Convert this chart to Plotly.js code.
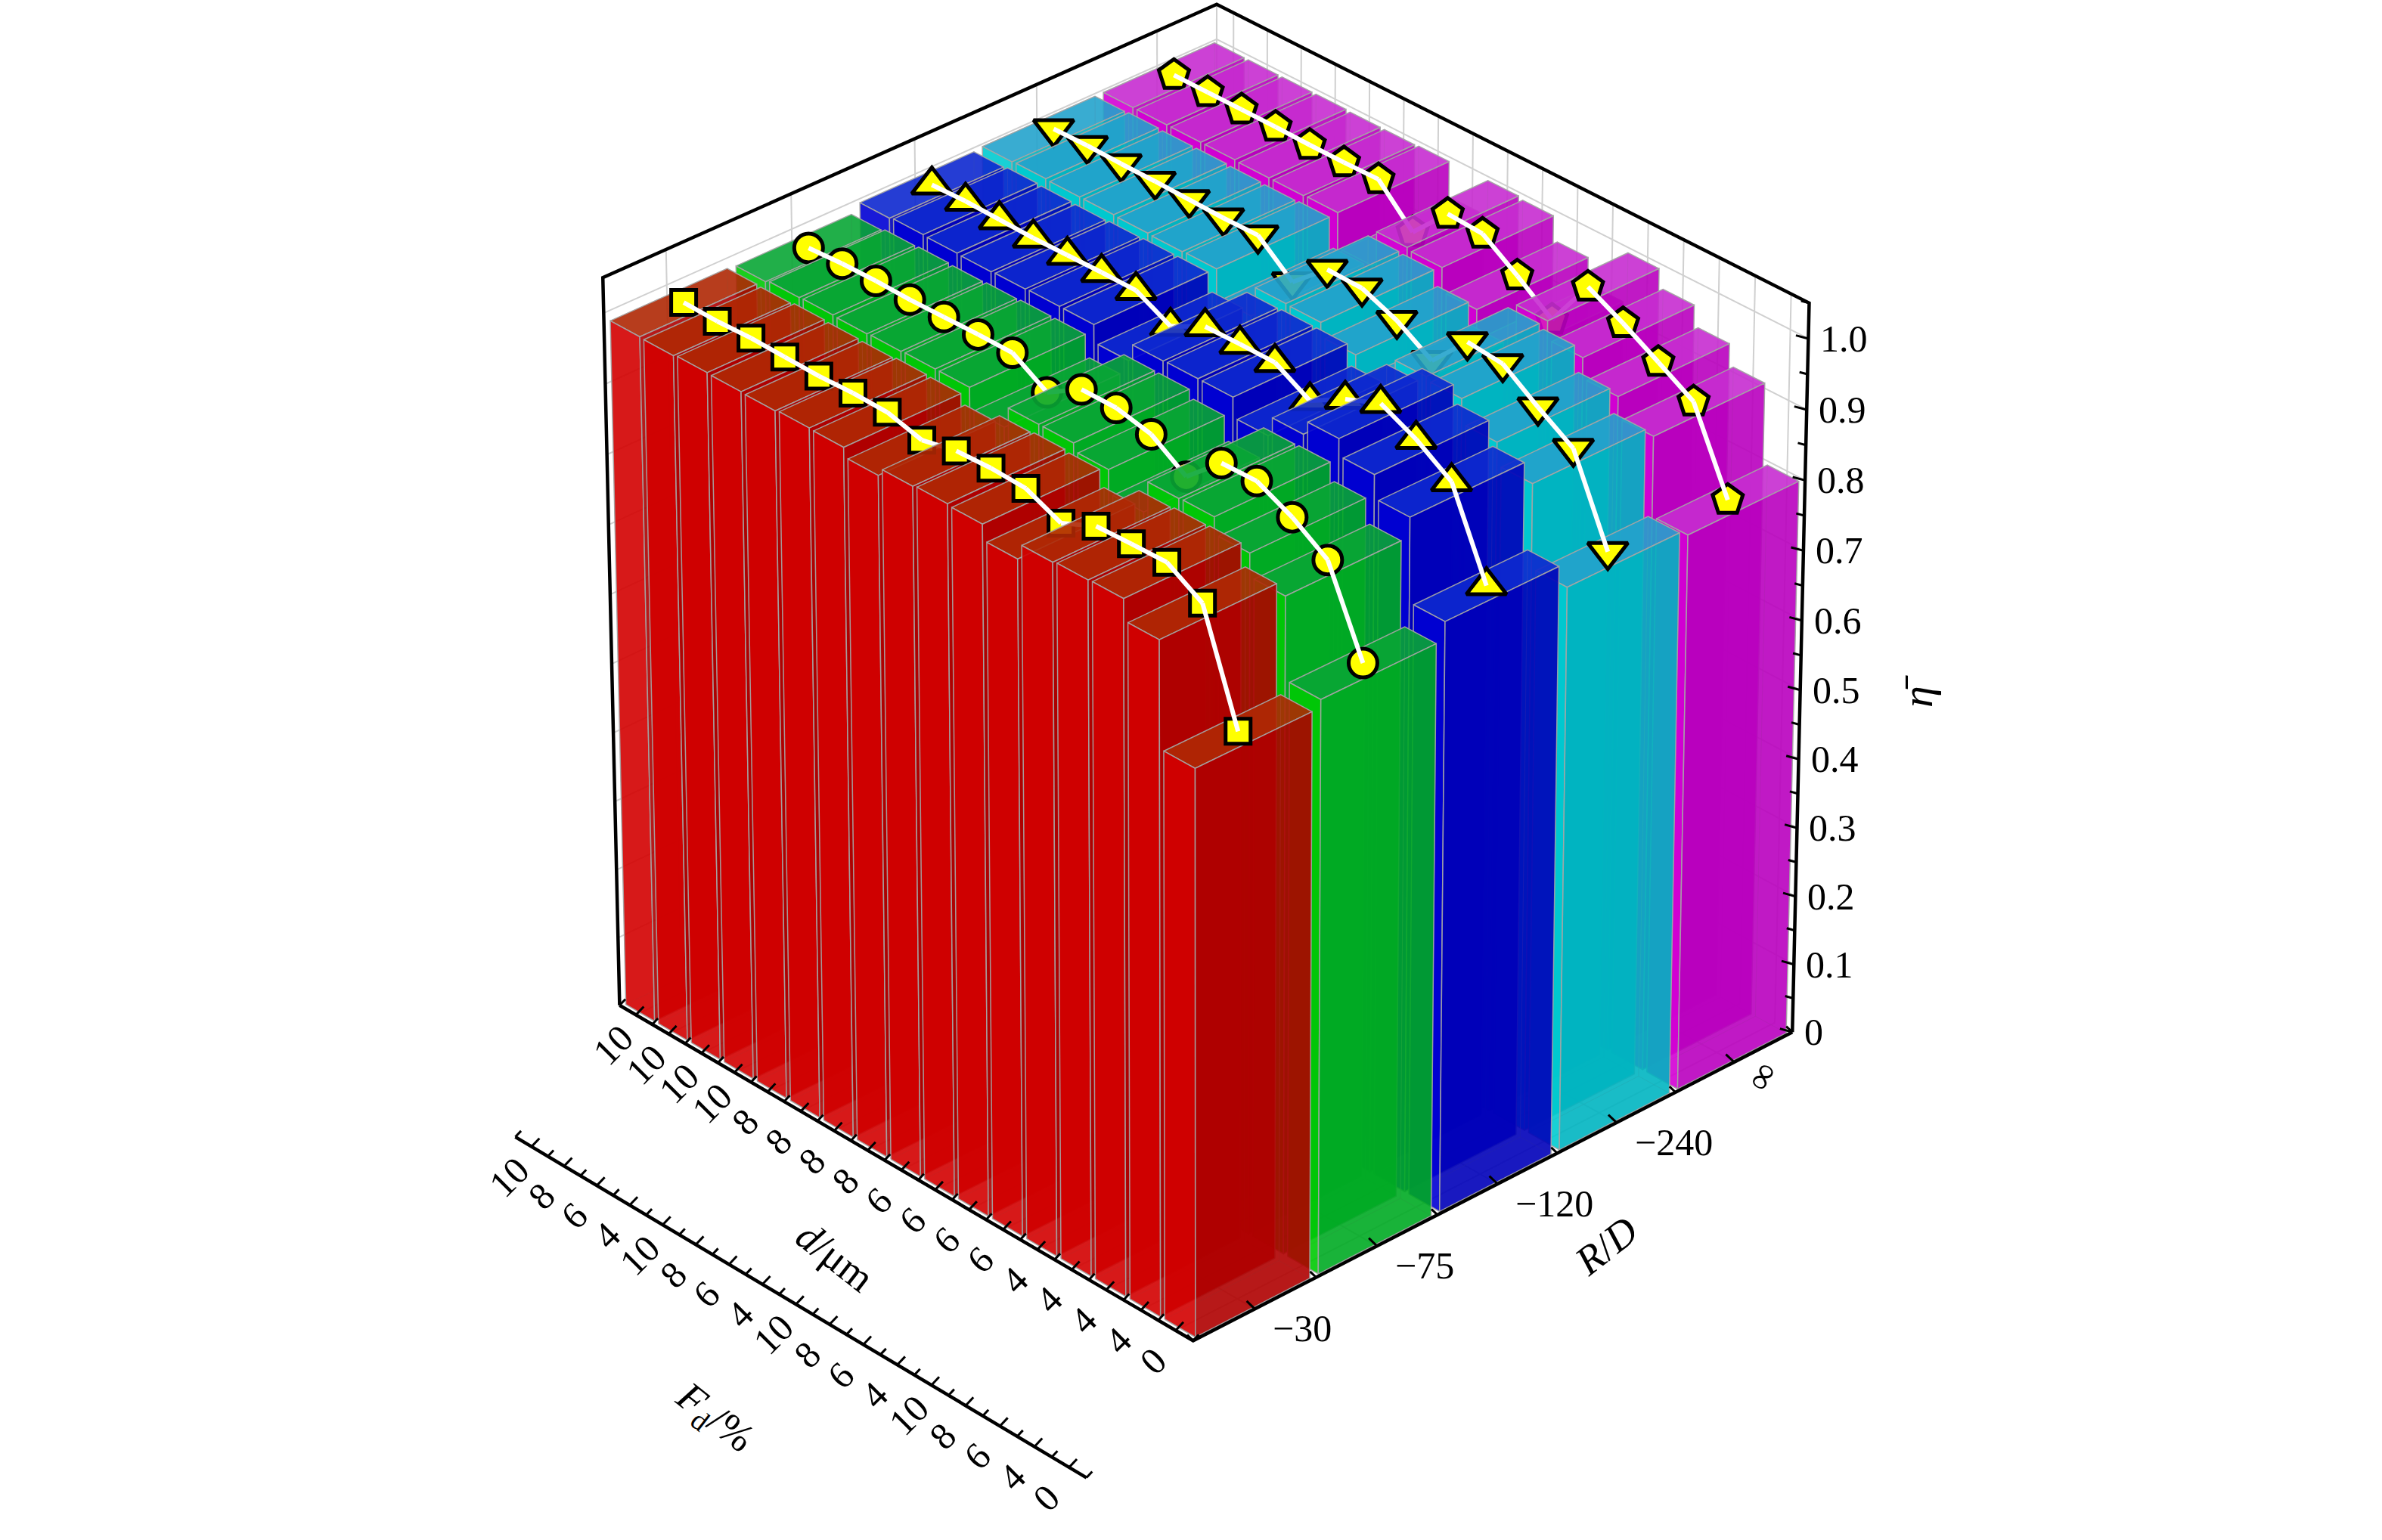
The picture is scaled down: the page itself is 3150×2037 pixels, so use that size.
<!DOCTYPE html>
<html><head><meta charset="utf-8">
<script src="https://cdn.plot.ly/plotly-3.0.1.min.js"></script>
<style>html,body{margin:0;padding:0;background:#fff;}#chart{width:3150px;height:2037px;}</style>
</head><body><div id="chart"></div>
<script>
// ---------------- data ----------------
const dLabels  = ['10','10','10','10','8','8','8','8','6','6','6','6','4','4','4','4','0'];
const fdLabels = ['10','8','6','4','10','8','6','4','10','8','6','4','10','8','6','4','0'];
const rdLabels = ['\u221230','\u221275','\u2212120','\u2212240','\u221e'];
const zTickVals = [0,0.1,0.2,0.3,0.4,0.5,0.6,0.7,0.8,0.9,1.0];
const zTickText = ['0','0.1','0.2','0.3','0.4','0.5','0.6','0.7','0.8','0.9','1.0'];
const etaRD30  = [0.988,0.987,0.989,0.988,0.987,0.989,0.988,0.975,0.986,0.988,0.986,0.964,0.986,0.988,0.989,0.959,0.808];
const etaRD75  = [0.986,0.989,0.990,0.989,0.990,0.991,0.991,0.961,0.991,0.991,0.980,0.947,0.992,0.993,0.969,0.936,0.819];
const etaRD120 = [0.997,0.999,0.998,0.997,0.998,0.999,0.999,0.974,0.999,1.000,1.000,0.972,1.000,1.020,0.996,0.963,0.844];
const etaRD240 = [0.999,1.000,0.999,0.999,0.998,0.997,0.998,0.957,1.000,0.999,0.979,0.948,1.000,0.995,0.960,0.928,0.809];
const etaInf   = [0.999,0.999,0.999,0.999,0.998,0.998,0.999,0.949,1.000,0.997,0.963,0.926,0.998,0.972,0.943,0.913,0.800];

// ---------------- styles ----------------
const series = [
  {vals:etaRD30,  f:[215,0,0],   s:[175,0,0],   t:[175,45,5],   sym:'square',        size:33},
  {vals:etaRD75,  f:[0,205,0],   s:[0,170,35],  t:[10,165,55],  sym:'circle',        size:38},
  {vals:etaRD120, f:[0,0,215],   s:[0,0,185],   t:[15,45,210],  sym:'triangle-up',   size:46},
  {vals:etaRD240, f:[0,205,210], s:[0,180,192], t:[40,160,205], sym:'triangle-down', size:46},
  {vals:etaInf,   f:[215,0,215], s:[185,0,190], t:[200,50,210], sym:'pentagon',      size:42}
];
const FACE_A = 0.8, BACK_A = 0.5, BW = 0.88, BD = 0.93;
const FONT = 'Liberation Serif, Times New Roman, serif';
const LBL = {family:FONT, size:50, color:'#000'};
const X0 = -0.5, X1 = dLabels.length - 0.5, Y0 = -0.5, Y1 = rdLabels.length - 0.5, Z0 = 0, Z1 = 1.05;
const FY = Y0 - 0.86, FZ = -0.119;                 // position of the F_d axis
// camera fitted to the reference view (perspective, looking down from the front corner)
const CAM = {az:43.2, el:30.7, dist:18, scale:1126, cx:1593.7, cy:872.5, ly:0.977, lz:0.995};
const rad = Math.PI/180;
const sa = Math.sin(CAM.az*rad), ca = Math.cos(CAM.az*rad), se = Math.sin(CAM.el*rad), ce = Math.cos(CAM.el*rad);
function world(x, y, z) {
  return [(x - X0)/(X1 - X0) - 0.5, ((y - Y0)/(Y1 - Y0) - 0.5)*CAM.ly, ((z - Z0)/(Z1 - Z0) - 0.5)*CAM.lz];
}
function P(x, y, z) {
  const [X, Y, Z] = world(x, y, z);
  const r = X*sa + Y*ca, u = -X*se*ca + Y*se*sa + Z*ce, d = X*ce*ca - Y*ce*sa + Z*se;
  const k = CAM.dist/(CAM.dist - d);
  return [CAM.cx + CAM.scale*k*r, CAM.cy - CAM.scale*k*u];
}
function depth(x, y) { const [X, Y] = world(x, y, 0); return X*ce*ca - Y*ce*sa; }
const rgba = (c, a) => `rgba(${c[0]},${c[1]},${c[2]},${a})`;

const traces = [];
function lineTrace(segs, color, width) {
  const xs = [], ys = [];
  segs.forEach(sg => { sg.forEach(p => { xs.push(p[0]); ys.push(p[1]); }); xs.push(null); ys.push(null); });
  traces.push({type:'scatter', mode:'lines', x:xs, y:ys, line:{color, width}, hoverinfo:'skip', connectgaps:false});
}
function polyTrace(polys, fill, lcolor, lw) {
  const xs = [], ys = [];
  polys.forEach((pg, i) => {
    if (i) { xs.push(null); ys.push(null); }
    pg.forEach(p => { xs.push(p[0]); ys.push(p[1]); }); xs.push(pg[0][0]); ys.push(pg[0][1]);
  });
  traces.push({type:'scatter', mode:'lines', x:xs, y:ys, fill:'toself', fillcolor:fill,
    line:{color:lcolor, width:lw}, hoverinfo:'skip', connectgaps:false});
}
const L3 = pts => pts.map(p => P(p[0], p[1], p[2]));

// ---------------- back walls & floor grid ----------------
(() => {
  const g = [];
  rdLabels.forEach((_, j) => { g.push(L3([[X0,j,Z0],[X0,j,Z1]])); g.push(L3([[X0,j,Z0],[X1,j,Z0]])); });
  dLabels.forEach((_, n) => { g.push(L3([[n,Y1,Z0],[n,Y1,Z1]])); g.push(L3([[n,Y0,Z0],[n,Y1,Z0]])); });
  zTickVals.slice(1).forEach(z => { g.push(L3([[X0,Y0,z],[X0,Y1,z],[X1,Y1,z]])); });
  g.push(L3([[X0,Y1,Z0],[X0,Y1,Z1]]));
  lineTrace(g, 'rgb(208,208,208)', 2);
})();

// ---------------- bars, markers, connecting lines (painter order) ----------------
const bars = [];
series.forEach((s, j) => s.vals.forEach((v, n) => bars.push({n, j, v, d:depth(n, j)})));
bars.sort((a, b) => a.d - b.d);
const mk = (s, n, j) => P(n, j, s.vals[n]);
bars.forEach(b => {
  const s = series[b.j], n = b.n, j = b.j, v = b.v;
  const x0 = n - BW/2, x1 = n + BW/2, y0 = j - BD/2, y1 = j + BD/2;
  const rising = n > 0 && v > s.vals[n-1] + 0.004;
  const seg = () => { const a = mk(s, n-1, j), c = mk(s, n, j);
    traces.push({type:'scatter', mode:'lines', x:[a[0], c[0]], y:[a[1], c[1]], line:{color:'#ffffff', width:6}, hoverinfo:'skip'}); };
  if (rising) seg();
  // hidden faces (seen through the translucent front)
  polyTrace([
    L3([[x0,y0,0],[x0,y1,0],[x0,y1,v],[x0,y0,v]]),
    L3([[x0,y1,0],[x1,y1,0],[x1,y1,v],[x0,y1,v]]),
    L3([[x0,y0,0],[x1,y0,0],[x1,y1,0],[x0,y1,0]])
  ], rgba(s.s, BACK_A), 'rgba(150,150,150,0.45)', 1);
  // visible faces
  polyTrace([L3([[x0,y0,v],[x1,y0,v],[x1,y1,v],[x0,y1,v]])], rgba(s.t, FACE_A), 'rgba(165,165,165,0.9)', 1.5);
  polyTrace([L3([[x0,y0,0],[x1,y0,0],[x1,y0,v],[x0,y0,v]])], rgba(s.f, FACE_A), 'rgba(165,165,165,0.9)', 1.5);
  polyTrace([L3([[x1,y0,0],[x1,y1,0],[x1,y1,v],[x1,y0,v]])], rgba(s.s, FACE_A), 'rgba(165,165,165,0.9)', 1.5);
  const m = mk(s, n, j);
  traces.push({type:'scatter', mode:'markers', x:[m[0]], y:[m[1]],
    marker:{symbol:s.sym, size:s.size, color:'#ffff00', line:{color:'#000', width:5}}, hoverinfo:'skip'});
  if (n > 0 && !rising) seg();
});

// ---------------- frame ----------------
lineTrace([
  L3([[X0,Y0,Z0],[X0,Y0,Z1],[X0,Y1,Z1],[X1,Y1,Z1],[X1,Y1,Z0]]),
  L3([[X0,Y0,Z0],[X1,Y0,Z0],[X1,Y1,Z0]]),
  L3([[X0,FY,FZ],[X1,FY,FZ]])
], '#000', 4.5);

// ---------------- ticks ----------------
function tickSeg(base, dir, len) {
  const p0 = P(base[0], base[1], base[2]);
  const p1 = P(base[0]+dir[0], base[1]+dir[1], base[2]+dir[2]);
  const dx = p1[0]-p0[0], dy = p1[1]-p0[1], L = Math.hypot(dx, dy);
  return [p0, [p0[0]+dx/L*len, p0[1]+dy/L*len]];
}
(() => {
  const t = [];
  for (let q = X0; q <= X1 + 1e-9; q += 0.5) {
    const major = Math.abs(q - Math.round(q)) < 1e-9;
    t.push(tickSeg([q, Y0, Z0], [0, 0.1, 0.01], major ? 15 : 11));
    t.push(tickSeg([q, FY, FZ], [0, 0.1, 0.01], major ? 15 : 11));
  }
  for (let q = Y0; q <= Y1 + 1e-9; q += 0.5) {
    const major = Math.abs(q - Math.round(q)) < 1e-9;
    t.push(tickSeg([X1, q, Z0], [-0.5, 0, 0.01], major ? 15 : 11));
  }
  for (let q = 0; q <= Z1 + 1e-9; q += 0.05) {
    const major = Math.abs(q*10 - Math.round(q*10)) < 1e-6;
    t.push(tickSeg([X1, Y1, q], [-0.5, -0.05, 0], major ? 17 : 11));
  }
  lineTrace(t, '#000', 3);
})();

// ---------------- labels ----------------
const ann = [];
const A = (x, y, text, angle, extra) => ann.push(Object.assign({x, y, xref:'x', yref:'y', text, showarrow:false,
  textangle:angle, font:LBL, xanchor:'center', yanchor:'middle'}, extra || {}));
dLabels.forEach((t, n) => { const p = P(n, Y0, Z0); A(p[0]-30, p[1]+40, t, -45); });
fdLabels.forEach((t, n) => { const p = P(n, FY, FZ); A(p[0]-30, p[1]+40, t, -45); });
rdLabels.forEach((t, j) => {
  const p = P(X1, j, Z0);
  if (t === '\u221e') A(p[0]+36, p[1]+18, t, -60);
  else A(p[0]+22, p[1]+26, t, 0, {xanchor:'left'});
});
zTickVals.forEach((z, i) => { const p = P(X1, Y1, z); A(p[0]+14, p[1], zTickText[i], 0, {xanchor:'left'}); });
const TF = {family:FONT, size:54, color:'#000'};
A(1104, 1662, '<i>d</i>/\u03bcm', 38, {font:TF});
A(2124, 1648, '<i>R</i>/<i>D</i>', -38, {font:TF});
A(944, 1876, '<i>F</i><sub>d</sub>/%', 38, {font:TF});
A(2535, 914, '<i>\u03b7\u0304</i>', -90, {font:{family:FONT, size:58, color:'#000'}});

const layout = {
  width:3150, height:2037, margin:{l:0, r:0, t:0, b:0}, paper_bgcolor:'#fff', plot_bgcolor:'#fff', showlegend:false,
  xaxis:{range:[0, 3150], visible:false, fixedrange:true},
  yaxis:{range:[2037, 0], visible:false, fixedrange:true},
  annotations:ann
};
Plotly.newPlot('chart', traces, layout, {staticPlot:true, displayModeBar:false});
</script></body></html>
